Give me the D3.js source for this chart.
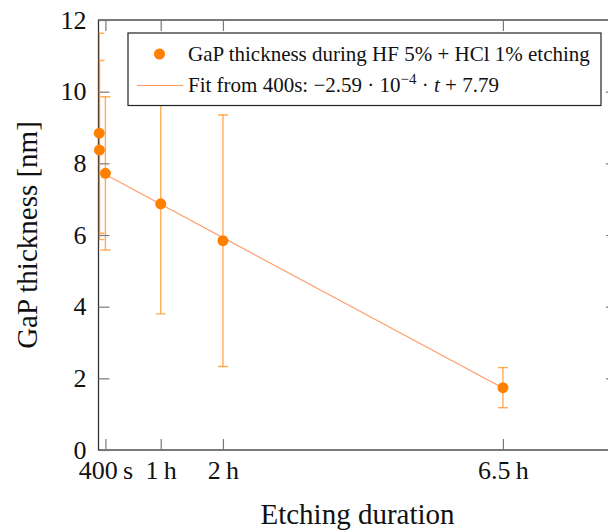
<!DOCTYPE html>
<html>
<head>
<meta charset="utf-8">
<script src="https://cdn.jsdelivr.net/npm/d3@7"></script>
<style>
  body { margin: 0; background: #fff; }
  svg { display: block; font-family: 'Liberation Serif', 'DejaVu Serif', serif; }
</style>
</head>
<body>
<div id="chart"></div>
<script>
// Measured points (t in seconds, thickness in nm)
const times = [45, 55, 400, 3600, 7200, 23400];
const thickness = [8.84, 8.37, 7.72, 6.87, 5.84, 1.74];
const errors = [2.79, 2.5, 2.14, 3.07, 3.51, 0.56];

// Linear fit from 400 s
const fitSlope = -2.59e-4;
const fitIntercept = 7.79;
const fitRange = [400, 23400];

const xTicks = [400, 3600, 7200, 23400];
const xTickLabels = ['400\u2009s', '1\u2009h', '2\u2009h', '6.5\u2009h'];
const yTicks = [0, 2, 4, 6, 8, 10, 12];

const width = 608;
const height = 530;
const plot = { left: 98.5, right: 617, top: 20, bottom: 450 };
const orange = '#ff8000';
const tickLen = 11;

const svg = d3.select('#chart').append('svg')
  .attr('width', width)
  .attr('height', height);

const xScale = d3.scaleLinear().domain([0, 30000]).range([plot.left, plot.right]);
const yScale = d3.scaleLinear().domain([0, 12]).range([plot.bottom, plot.top]);

// clip for error bars and fit line
svg.append('clipPath').attr('id', 'clip')
  .append('rect')
  .attr('x', plot.left).attr('y', plot.top)
  .attr('width', plot.right - plot.left)
  .attr('height', plot.bottom - plot.top);

const data = times.map((t, i) => ({ t, y: thickness[i], e: errors[i] }));

// frame (drawn first, the bars sit on top of it)
svg.append('rect')
  .attr('x', plot.left).attr('y', plot.top)
  .attr('width', plot.right - plot.left)
  .attr('height', plot.bottom - plot.top)
  .attr('fill', 'none')
  .attr('stroke', '#333')
  .attr('stroke-width', 1.3);

// inward ticks on all four sides
const xAxisB = d3.axisBottom(xScale).tickValues(xTicks)
  .tickSizeInner(-tickLen).tickSizeOuter(0).tickPadding(15)
  .tickFormat((d, i) => xTickLabels[i]);
const gxb = svg.append('g').attr('transform', `translate(0,${plot.bottom})`).call(xAxisB);

const xAxisT = d3.axisTop(xScale).tickValues(xTicks)
  .tickSizeInner(-tickLen).tickSizeOuter(0).tickFormat('');
const gxt = svg.append('g').attr('transform', `translate(0,${plot.top})`).call(xAxisT);

const yAxisL = d3.axisLeft(yScale).tickValues(yTicks)
  .tickSizeInner(-tickLen).tickSizeOuter(0).tickPadding(12);
const gyl = svg.append('g').attr('transform', `translate(${plot.left},0)`).call(yAxisL);

const yAxisR = d3.axisRight(yScale).tickValues(yTicks)
  .tickSizeInner(-tickLen).tickSizeOuter(0).tickFormat('');
const gyr = svg.append('g').attr('transform', `translate(${plot.right},0)`).call(yAxisR);

[gxb, gxt, gyl, gyr].forEach(g => {
  g.select('.domain').remove();
  g.selectAll('.tick line').attr('stroke', '#777').attr('stroke-width', 1.2);
  g.selectAll('.tick text')
    .attr('font-family', "'Liberation Serif', serif")
    .attr('font-size', 26)
    .attr('fill', '#111');
});
gxb.selectAll('.tick text').attr('dy', '0.55em');

// error bars
const bars = svg.append('g').attr('clip-path', 'url(#clip)')
  .attr('stroke', orange).attr('stroke-opacity', 0.65).attr('stroke-width', 1.4);

data.forEach(d => {
  const x = xScale(d.t);
  const g = bars.append('g');
  g.append('line')
    .attr('x1', x).attr('x2', x)
    .attr('y1', yScale(d.y - d.e)).attr('y2', yScale(d.y + d.e));
  [d.y - d.e, d.y + d.e].forEach(v => {
    g.append('line')
      .attr('x1', x - 5).attr('x2', x + 5)
      .attr('y1', yScale(v)).attr('y2', yScale(v));
  });
});

// fit line
svg.append('line')
  .attr('clip-path', 'url(#clip)')
  .attr('x1', xScale(fitRange[0]))
  .attr('y1', yScale(fitSlope * fitRange[0] + fitIntercept))
  .attr('x2', xScale(fitRange[1]))
  .attr('y2', yScale(fitSlope * fitRange[1] + fitIntercept))
  .attr('stroke', '#ff9a66')
  .attr('stroke-width', 1.1);

// markers (not clipped)
svg.append('g').selectAll('circle')
  .data(data)
  .enter()
  .append('circle')
  .attr('cx', d => xScale(d.t))
  .attr('cy', d => yScale(d.y))
  .attr('r', 5.5)
  .attr('fill', orange);

// axis titles
svg.append('text')
  .attr('x', 357.5)
  .attr('y', 524)
  .attr('text-anchor', 'middle')
  .attr('font-size', 29)
  .attr('fill', '#111')
  .text('Etching duration');

svg.append('text')
  .attr('transform', `translate(37,${(plot.top + plot.bottom) / 2}) rotate(-90)`)
  .attr('text-anchor', 'middle')
  .attr('font-size', 29)
  .attr('fill', '#111')
  .text('GaP thickness [nm]');

// legend
const legend = svg.append('g');
legend.append('rect')
  .attr('x', 128).attr('y', 33)
  .attr('width', 473).attr('height', 72.5)
  .attr('fill', '#fff')
  .attr('stroke', '#222')
  .attr('stroke-width', 1.2);

legend.append('circle')
  .attr('cx', 159.5).attr('cy', 54)
  .attr('r', 5.5)
  .attr('fill', orange);

legend.append('line')
  .attr('x1', 137).attr('x2', 183)
  .attr('y1', 85.5).attr('y2', 85.5)
  .attr('stroke', '#ff9a66')
  .attr('stroke-width', 1.1);

legend.append('text')
  .attr('x', 188).attr('y', 60.5)
  .attr('font-size', 21)
  .attr('fill', '#111')
  .text('GaP thickness during HF 5% + HCl 1% etching');

const fitText = legend.append('text')
  .attr('x', 188).attr('y', 92)
  .attr('font-size', 21)
  .attr('fill', '#111');
fitText.append('tspan').text('Fit from 400s: \u22122.59 \u00b7 10');
fitText.append('tspan').attr('dy', -8).attr('font-size', 15).text('\u22124');
fitText.append('tspan').attr('dy', 8).text(' \u00b7 ');
fitText.append('tspan').attr('font-style', 'italic').text('t');
fitText.append('tspan').text(' + 7.79');
</script>
</body>
</html>
